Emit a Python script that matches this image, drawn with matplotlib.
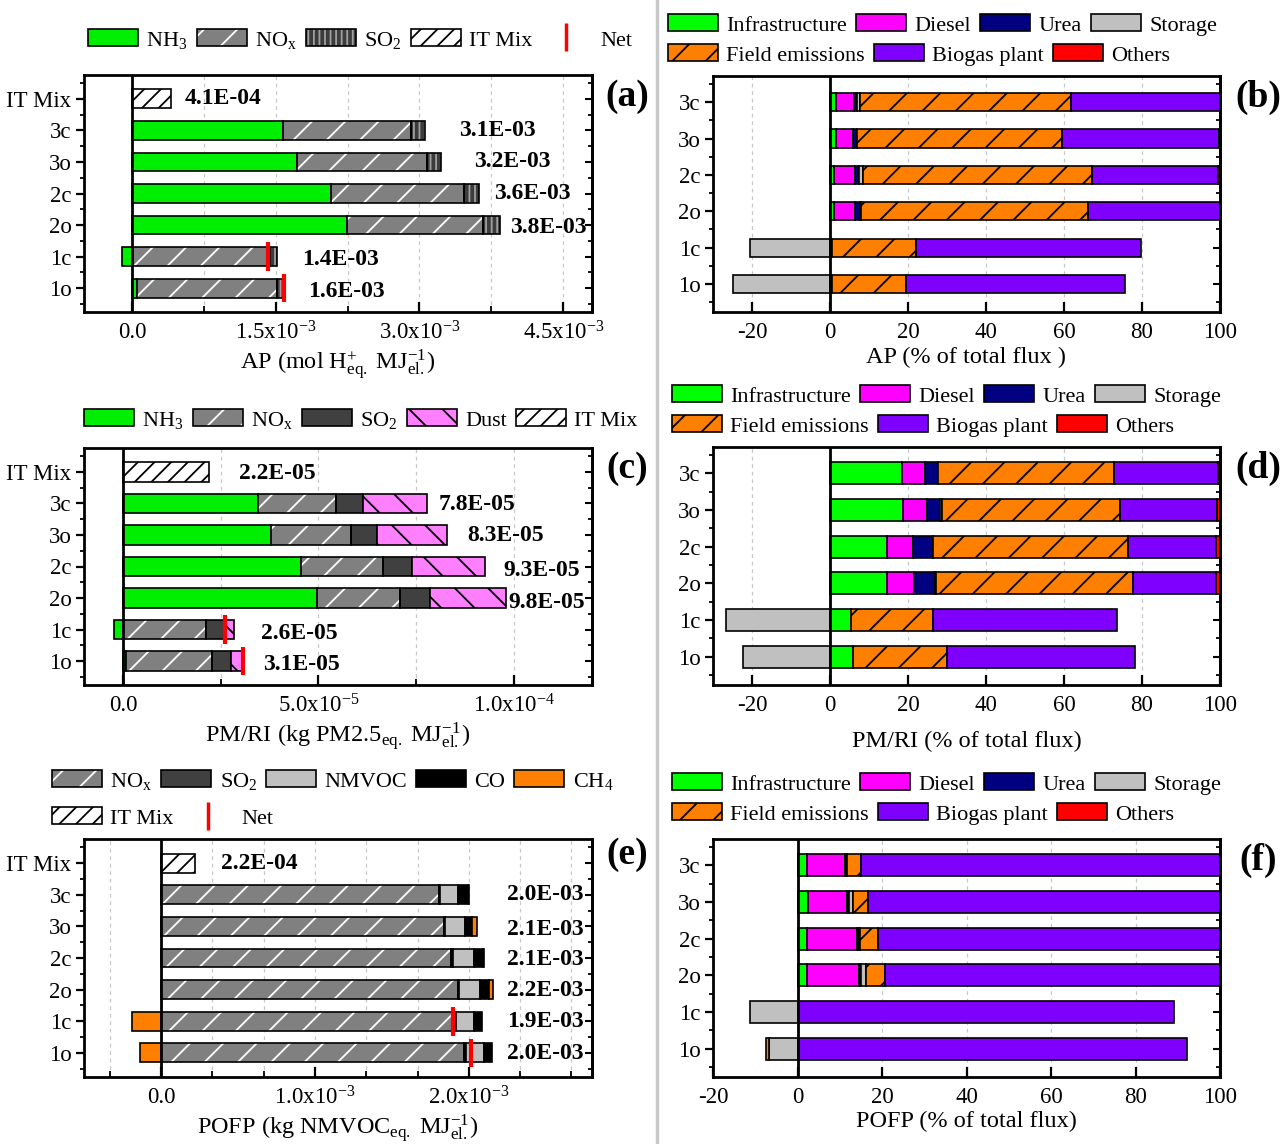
import numpy as np
import matplotlib
matplotlib.use('Agg')
import matplotlib.pyplot as plt
from matplotlib.patches import Patch
from matplotlib.lines import Line2D
from matplotlib.ticker import MultipleLocator, FixedLocator, FixedFormatter

plt.rcParams['font.family'] = ['Liberation Serif', 'DejaVu Serif']
plt.rcParams['mathtext.fontset'] = 'custom'
plt.rcParams['mathtext.rm'] = 'Liberation Serif'
plt.rcParams['mathtext.it'] = 'Liberation Serif:italic'
plt.rcParams['mathtext.bf'] = 'Liberation Serif:bold'
plt.rcParams['hatch.linewidth'] = 1.3
plt.rcParams['axes.unicode_minus'] = False

# ------------------------------------------------------------------ data
cats_left = ['IT Mix', '3c', '3o', '2c', '2o', '1c', '1o']
cats_right = ['3c', '3o', '2c', '2o', '1c', '1o']

# (a) AP (mol H+ eq. / MJ el.), rows 3c,3o,2c,2o,1c,1o
ap_nh3 = [1.576e-3, 1.723e-3, 2.074e-3, 2.247e-3, -0.100e-3, 0.056e-3]
ap_nox = [1.333e-3, 1.359e-3, 1.390e-3, 1.420e-3, 1.437e-3, 1.459e-3]
ap_so2 = [0.152e-3, 0.143e-3, 0.160e-3, 0.173e-3, 0.078e-3, 0.074e-3]
ap_itmix = 0.411e-3
ap_labels = ['4.1E-04', '3.1E-03', '3.2E-03', '3.6E-03', '3.8E-03', '1.4E-03', '1.6E-03']
ap_ticks = [0.0, 1.5e-3, 3.0e-3, 4.5e-3]
ap_ticklabels = ['0.0', '1.5x10$^{-3}$', '3.0x10$^{-3}$', '4.5x10$^{-3}$']

# (c) PM/RI (kg PM2.5 eq. / MJ el.)
pm_nh3 = [34.6e-6, 37.8e-6, 45.6e-6, 49.6e-6, -2.45e-6, 0.75e-6]
pm_nox = [20.0e-6, 20.4e-6, 20.8e-6, 21.3e-6, 21.1e-6, 22.1e-6]
pm_so2 = [6.8e-6, 6.8e-6, 7.5e-6, 7.6e-6, 4.8e-6, 4.7e-6]
pm_dust = [16.3e-6, 17.9e-6, 18.8e-6, 19.6e-6, 2.6e-6, 3.2e-6]
pm_itmix = 21.9e-6
pm_labels = ['2.2E-05', '7.8E-05', '8.3E-05', '9.3E-05', '9.8E-05', '2.6E-05', '3.1E-05']
pm_ticks = [0.0, 5.0e-5, 1.0e-4]
pm_ticklabels = ['0.0', '5.0x10$^{-5}$', '1.0x10$^{-4}$']

# (e) POFP (kg NMVOC eq. / MJ el.)
pofp_nox = [1.803e-3, 1.838e-3, 1.887e-3, 1.927e-3, 1.906e-3, 1.968e-3]
pofp_so2 = [0.008e-3, 0.008e-3, 0.008e-3, 0.008e-3, 0.008e-3, 0.013e-3]
pofp_nmvoc = [0.121e-3, 0.127e-3, 0.137e-3, 0.140e-3, 0.119e-3, 0.119e-3]
pofp_co = [0.062e-3, 0.049e-3, 0.057e-3, 0.054e-3, 0.051e-3, 0.051e-3]
pofp_ch4 = [0.008e-3, 0.030e-3, 0.008e-3, 0.030e-3, -0.189e-3, -0.137e-3]
pofp_itmix = 0.222e-3
pofp_labels = ['2.2E-04', '2.0E-03', '2.1E-03', '2.1E-03', '2.2E-03', '1.9E-03', '2.0E-03']
pofp_ticks = [0.0, 1.0e-3, 2.0e-3]
pofp_ticklabels = ['0.0', '1.0x10$^{-3}$', '2.0x10$^{-3}$']

# (b) AP contributions (% of total flux)
b_infra = [1.5, 1.5, 1.1, 1.1, 0.4, 0.4]
b_diesel = [4.7, 4.5, 5.4, 5.4, 0.0, 0.0]
b_urea = [0.7, 1.0, 1.0, 1.2, 0.0, 0.0]
b_storage = [0.7, 0.0, 0.9, 0.2, -20.4, -24.9]
b_field = [54.3, 52.6, 58.8, 58.2, 21.7, 19.2]
b_biogas = [38.0, 40.1, 32.2, 33.9, 57.6, 56.0]
b_others = [0.1, 0.3, 0.6, 0.0, 0.0, 0.0]

# (d) PM/RI contributions (% of total flux)
d_infra = [18.5, 18.7, 14.5, 14.7, 5.3, 6.0]
d_diesel = [5.9, 6.1, 6.9, 6.8, 0.0, 0.0]
d_urea = [3.2, 3.3, 5.1, 5.3, 0.0, 0.0]
d_storage = [0.2, 0.5, 0.0, 0.5, -26.7, -22.2]
d_field = [44.9, 45.7, 50.0, 50.5, 21.2, 23.9]
d_biogas = [26.8, 25.0, 22.4, 21.1, 47.2, 48.2]
d_others = [0.6, 0.6, 1.0, 1.0, 0.0, 0.0]

# (f) POFP contributions (% of total flux)
f_infra = [2.3, 2.4, 2.2, 2.2, 0.3, 0.3]
f_diesel = [8.9, 9.4, 11.9, 12.3, 0.0, 0.0]
f_urea = [0.4, 0.3, 0.5, 0.5, 0.0, 0.0]
f_storage = [0.0, 1.1, 0.2, 1.1, -11.2, -6.8]
f_field = [3.4, 3.6, 4.3, 4.5, 0.0, -0.7]
f_biogas = [85.0, 83.2, 81.0, 79.3, 88.9, 92.0]
f_others = [0.0, 0.0, 0.0, 0.0, 0.0, 0.0]

pct_ticks = [-20, 0, 20, 40, 60, 80, 100]

# ------------------------------------------------------------------ styles
ST = {
    'NH3': dict(fc='#00ee00'),
    'NOx': dict(fc='#808080', hatch='/', hc='white'),
    'SO2a': dict(fc='#3c3c3c', hatch='|||', hc='#a0a0a0'),
    'SO2': dict(fc='#404040'),
    'Dust': dict(fc='#ff80ff', hatch='\\', hc='black'),
    'IT': dict(fc='white', hatch='//', hc='black'),
    'NMVOC': dict(fc='#c0c0c0'),
    'CO': dict(fc='black'),
    'CH4': dict(fc='#ff8000'),
    'Infra': dict(fc='#00ff00'),
    'Diesel': dict(fc='#ff00ff'),
    'Urea': dict(fc='#000080'),
    'Storage': dict(fc='#c0c0c0'),
    'Field': dict(fc='#ff8000', hatch='/', hc='black'),
    'Biogas': dict(fc='#8000ff'),
    'Others': dict(fc='#ff0000'),
}
EDGE_LW = 1.2
TICK_FS = 16.5
XLABEL_FS = 17.5
LEG_FS = 16

W, H = 1282, 1144
fig = plt.figure(figsize=(W / 100, H / 100), dpi=100)


def rect(l, t, r, b):
    return [l / W, 1 - b / H, (r - l) / W, (b - t) / H]


def draw_seg(ax, ys, widths, lefts, h, st):
    if st.get('hatch'):
        ax.barh(ys, widths, h, left=lefts, color=st['fc'], edgecolor=st['hc'],
                hatch=st['hatch'], lw=0, zorder=2)
        ax.barh(ys, widths, h, left=lefts, fill=False, edgecolor='k',
                lw=EDGE_LW, zorder=2.1)
    else:
        ax.barh(ys, widths, h, left=lefts, color=st['fc'], edgecolor='k',
                lw=EDGE_LW, zorder=2)


def stack(ax, ys, series, styles, h):
    ys = np.asarray(ys, float)
    pos = np.zeros(len(ys))
    neg = np.zeros(len(ys))
    for vals, st in zip(series, styles):
        v = np.asarray(vals, float)
        left = np.where(v >= 0, pos, neg)
        pos = pos + np.where(v > 0, v, 0)
        neg = neg + np.where(v < 0, v, 0)
        m = v != 0
        if m.any():
            draw_seg(ax, ys[m], v[m], left[m], h, st)
    return pos + neg


def handle(st):
    if st.get('hatch'):
        return (Patch(facecolor=st['fc'], edgecolor=st['hc'], hatch=st['hatch'], lw=0),
                Patch(fill=False, edgecolor='k', lw=EDGE_LW))
    return Patch(facecolor=st['fc'], edgecolor='k', lw=EDGE_LW)


NET_HANDLE = Line2D([], [], color='red', marker='|', linestyle='None',
                    markersize=20, markeredgewidth=2.5)


def add_legend(handles, labels, x_px, y_px):
    fig.legend(handles, labels, loc='center left',
               bbox_to_anchor=(x_px / W, 1 - y_px / H), ncol=len(handles),
               frameon=False, borderpad=0, borderaxespad=0, handlelength=2.25,
               handleheight=0.8, handletextpad=0.38, columnspacing=0.4,
               fontsize=LEG_FS)


def style_axes(ax, ys, cats, ylim):
    for s in ax.spines.values():
        s.set_linewidth(2)
    ax.set_ylim(*ylim)
    ax.set_yticks(ys)
    ax.set_yticklabels(cats, fontsize=TICK_FS)
    ax.yaxis.set_minor_locator(MultipleLocator(0.5))
    ax.tick_params(axis='y', which='major', direction='out', length=6, width=1.6, pad=3)
    ax.tick_params(axis='y', which='minor', direction='out', length=3, width=1.3)
    ax.tick_params(axis='x', which='major', direction='in', length=7, width=1.6,
                   labelsize=TICK_FS, pad=7)
    ax.tick_params(axis='x', which='minor', direction='in', length=4, width=1.3)
    sec = ax.secondary_yaxis('right')
    sec.set_yticks(ys)
    sec.yaxis.set_minor_locator(MultipleLocator(0.5))
    sec.tick_params(which='major', direction='in', length=5, width=1.5, labelright=False)
    sec.tick_params(which='minor', direction='in', length=3, width=1.3)
    sec.spines['right'].set_linewidth(2)
    ax.grid(True, axis='x', which='both', linestyle=(0, (3, 3)), color='#c8c8c8', lw=0.9)
    ax.set_axisbelow(True)
    ax.axvline(0, color='k', lw=2, zorder=4)


def left_panel(box, comps, styles, itmix, labels, lab_x, lab_dy, xlim, ticks,
               ticklabels, minor, xlabel, h):
    ax = fig.add_axes(rect(*box))
    ys = np.arange(len(cats_left))[::-1].astype(float)
    rows = ys[1:]
    net = stack(ax, rows, comps, styles, h)
    draw_seg(ax, ys[:1], [itmix], [0.0], h, ST['IT'])
    for k in (4, 5):  # scenarios with negative contributions -> net marker
        ax.vlines(net[k], rows[k] - 0.45, rows[k] + 0.45, color='red', lw=3, zorder=5)
    for y, t, x, dy in zip(ys, labels, lab_x, lab_dy):
        ax.text(x, y - dy, t, fontsize=17, fontweight='bold', ha='left', va='center')
    ax.set_xlim(*xlim)
    ax.xaxis.set_major_locator(FixedLocator(ticks))
    ax.xaxis.set_major_formatter(FixedFormatter(ticklabels))
    ax.xaxis.set_minor_locator(MultipleLocator(minor))
    style_axes(ax, ys, cats_left, (-0.76, 6.76))
    ax.set_xlabel(xlabel, fontsize=XLABEL_FS, labelpad=2)
    return ax


def right_panel(box, comps, h, xlim, xlabel, labelpad):
    ax = fig.add_axes(rect(*box))
    ys = np.arange(len(cats_right))[::-1].astype(float)
    styles = [ST[k] for k in ('Infra', 'Diesel', 'Urea', 'Storage', 'Field', 'Biogas', 'Others')]
    stack(ax, ys, comps, styles, h)
    ax.set_xlim(*xlim)
    ax.set_xticks(pct_ticks)
    ax.xaxis.set_minor_locator(FixedLocator([]))
    style_axes(ax, ys, cats_right, (-0.77, 5.72))
    ax.set_xlabel(xlabel, fontsize=XLABEL_FS, labelpad=labelpad)
    return ax


# ------------------------------------------------------------------ panels
# (a)
left_panel((84, 75, 592, 312), [ap_nh3, ap_nox, ap_so2],
           [ST['NH3'], ST['NOx'], ST['SO2a']], ap_itmix, ap_labels,
           [0.55e-3, 3.41e-3, 3.57e-3, 3.78e-3, 3.94e-3, 1.78e-3, 1.84e-3],
           [0, 0, 0, 0, 0.08, 0.1, 0.1],
           (-0.5e-3, 4.8e-3), ap_ticks, ap_ticklabels, 0.75e-3,
           r'AP (mol H$^{+}_{\mathrm{eq.}}$ MJ$^{-1}_{\mathrm{el.}}$)', 0.6)

# (c)
left_panel((84, 448, 592, 685), [pm_nh3, pm_nox, pm_so2, pm_dust],
           [ST['NH3'], ST['NOx'], ST['SO2'], ST['Dust']], pm_itmix, pm_labels,
           [29.6e-6, 80.8e-6, 88.2e-6, 97.4e-6, 98.6e-6, 35.2e-6, 35.7e-6],
           [0.05, 0.03, 0.03, 0.12, 0.13, 0.13, 0.1],
           (-1.0e-5, 1.2e-4), pm_ticks, pm_ticklabels, 2.5e-5,
           r'PM/RI (kg PM2.5$_{\mathrm{eq.}}$ MJ$^{-1}_{\mathrm{el.}}$)', 0.62)

# (e)
left_panel((84, 839, 592, 1077), [pofp_nox, pofp_so2, pofp_nmvoc, pofp_co, pofp_ch4],
           [ST['NOx'], ST['SO2'], ST['NMVOC'], ST['CO'], ST['CH4']], pofp_itmix,
           pofp_labels,
           [0.39e-3, 2.25e-3, 2.25e-3, 2.25e-3, 2.25e-3, 2.25e-3, 2.25e-3],
           [0, 0, 0.1, 0.05, 0.02, 0.02, 0.02],
           (-0.5e-3, 2.8e-3), pofp_ticks, pofp_ticklabels, 1.0e-3 / 3,
           r'POFP (kg NMVOC$_{\mathrm{eq.}}$ MJ$^{-1}_{\mathrm{el.}}$)', 0.6)

# (b), (d), (f)
right_panel((713, 76, 1220, 312),
            [b_infra, b_diesel, b_urea, b_storage, b_field, b_biogas, b_others],
            0.5, (-30, 100), 'AP (% of total flux )', 3)
right_panel((713, 447, 1220, 685),
            [d_infra, d_diesel, d_urea, d_storage, d_field, d_biogas, d_others],
            0.6, (-30, 100), 'PM/RI (% of total flux)', 11)
right_panel((713, 839, 1220, 1077),
            [f_infra, f_diesel, f_urea, f_storage, f_field, f_biogas, f_others],
            0.6, (-20, 100), 'POFP (% of total flux)', 2)

# ------------------------------------------------------------------ legends
add_legend([handle(ST['NH3']), handle(ST['NOx']), handle(ST['SO2a']), handle(ST['IT']), NET_HANDLE],
           ['NH$_3$', r'NO$_\mathrm{x}$', 'SO$_2$', 'IT Mix', 'Net'], 88, 40)
add_legend([handle(ST['NH3']), handle(ST['NOx']), handle(ST['SO2']), handle(ST['Dust']), handle(ST['IT'])],
           ['NH$_3$', r'NO$_\mathrm{x}$', 'SO$_2$', 'Dust', 'IT Mix'], 84, 420)
add_legend([handle(ST['NOx']), handle(ST['SO2']), handle(ST['NMVOC']), handle(ST['CO']), handle(ST['CH4'])],
           [r'NO$_\mathrm{x}$', 'SO$_2$', 'NMVOC', 'CO', 'CH$_4$'], 52, 781)
add_legend([handle(ST['IT']), NET_HANDLE], ['IT Mix', 'Net'], 52, 818)

for x0, y1, y2 in ((668, 25, 55), (672, 396, 426), (672, 784, 814)):
    add_legend([handle(ST['Infra']), handle(ST['Diesel']), handle(ST['Urea']), handle(ST['Storage'])],
               ['Infrastructure', 'Diesel', 'Urea', 'Storage'], x0, y1)
    add_legend([handle(ST['Field']), handle(ST['Biogas']), handle(ST['Others'])],
               ['Field emissions', 'Biogas plant', 'Others'], x0, y2)

# ------------------------------------------------------------------ panel letters & divider
for t, x, y in (('(a)', 627, 97), ('(b)', 1258, 97), ('(c)', 627, 468),
                ('(d)', 1258, 468), ('(e)', 627, 855), ('(f)', 1258, 860)):
    fig.text(x / W, 1 - y / H, t, fontsize=27, fontweight='bold', ha='center', va='center')

fig.add_artist(Line2D([657 / W, 657 / W], [0, 1], color='#c8c8c8', lw=2.5,
                      transform=fig.transFigure))

fig.savefig('out.png', dpi=100)
